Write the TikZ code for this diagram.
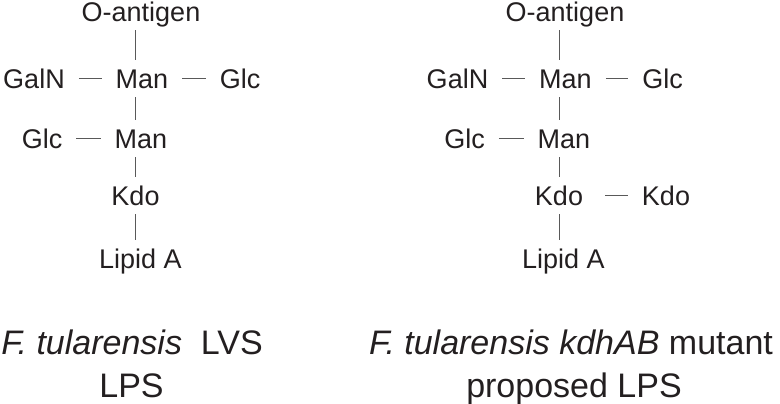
\documentclass[tikz,border=0pt]{standalone}
\usepackage{fontspec}
\setmainfont{Liberation Sans}
\definecolor{ink}{HTML}{231F20}

\begin{document}
\begin{tikzpicture}[x=1bp,y=-1bp,
  sugar/.style={inner sep=0pt,text height=19bp,text depth=0pt,anchor=base,
    text=ink,font=\fontsize{27bp}{32bp}\selectfont},
  bond/.style={draw=black!65,line width=0.8bp},
  vbond/.style={bond,shorten <=9bp,shorten >=9bp},
  hbond/.style={bond,shorten <=14bp,shorten >=14bp},
  caption/.style={inner sep=0pt,anchor=base,text=ink,
    font=\fontsize{34bp}{43bp}\selectfont}]
  \useasboundingbox (0,0) rectangle (780,403);

  %% LVS core
  \node[sugar] (lO) at (141,21) {O-antigen};
  \node[sugar] (lGalN) at (34,88) {GalN};
  \node[sugar] (lMan1) at (142,88) {Man};
  \node[sugar] (lGlc1) at (240,88) {Glc};
  \node[sugar] (lGlc2) at (42,148) {Glc};
  \node[sugar] (lMan2) at (141,148) {Man};
  \node[sugar] (lKdo) at (135.5,205) {Kdo};
  \node[sugar] (lLipid) at (140.5,268) {Lipid A};

  \draw[vbond] (lO.south -| lKdo) -- (lMan1.north -| lKdo);
  \draw[vbond] (lMan1.south -| lKdo) -- (lMan2.north -| lKdo);
  \draw[vbond] (lMan2.south -| lKdo) -- (lKdo.north);
  \draw[vbond] (lKdo.south) -- (lLipid.north -| lKdo);
  \draw[hbond] (lGalN) -- (lMan1);
  \draw[hbond] (lMan1) -- (lGlc1);
  \draw[hbond] (lGlc2) -- (lMan2);

  %% kdhAB mutant core
  \node[sugar] (rO) at (565,21) {O-antigen};
  \node[sugar] (rGalN) at (457.5,88) {GalN};
  \node[sugar] (rMan1) at (565.5,88) {Man};
  \node[sugar] (rGlc1) at (662.5,88) {Glc};
  \node[sugar] (rGlc2) at (464.5,148) {Glc};
  \node[sugar] (rMan2) at (564,148) {Man};
  \node[sugar] (rKdo1) at (559,205) {Kdo};
  \node[sugar] (rKdo2) at (666,205) {Kdo};
  \node[sugar] (rLipid) at (563.5,268) {Lipid A};

  \draw[vbond] (rO.south -| rKdo1) -- (rMan1.north -| rKdo1);
  \draw[vbond] (rMan1.south -| rKdo1) -- (rMan2.north -| rKdo1);
  \draw[vbond] (rMan2.south -| rKdo1) -- (rKdo1.north);
  \draw[vbond] (rKdo1.south) -- (rLipid.north -| rKdo1);
  \draw[hbond] (rGalN) -- (rMan1);
  \draw[hbond] (rMan1) -- (rGlc1);
  \draw[hbond] (rGlc2) -- (rMan2);
  \draw[hbond,shorten <=22bp] (rKdo1) -- (rKdo2);

  %% Captions
  \node[caption] (capL1) at (132,354) {\textit{F. tularensis}~ LVS};
  \node[caption] (capL2) at (131.5,397) {LPS};
  \node[caption] (capR1) at (571,354) {\textit{F. tularensis kdhAB} mutant};
  \node[caption] (capR2) at (574,397) {proposed LPS};

\end{tikzpicture}
\end{document}
